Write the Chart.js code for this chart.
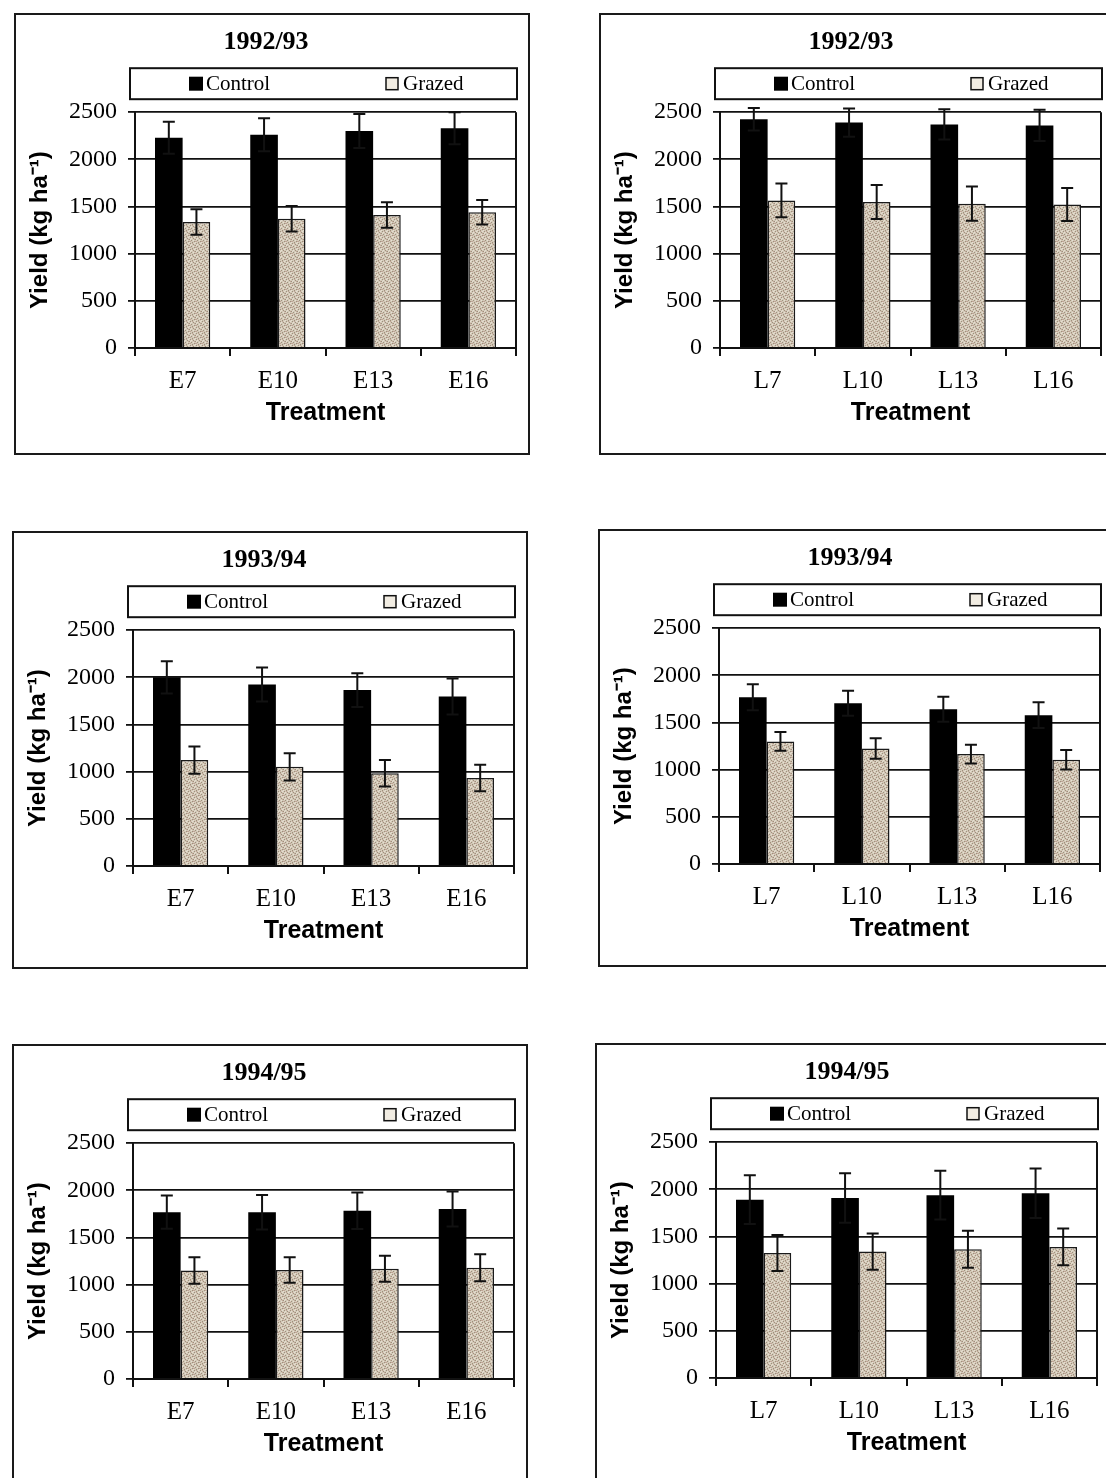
<!DOCTYPE html>
<html><head><meta charset="utf-8">
<script src="https://cdn.jsdelivr.net/npm/chart.js@4.4.1/dist/chart.umd.min.js"></script>
<style>
html,body{margin:0;padding:0;background:#fff;overflow:hidden;width:1106px;height:1478px;position:relative;}
.panel{position:absolute;border:2px solid #1a1a1a;background:#fff;}
.panel canvas{display:block;}
</style></head><body>
<div class="panel" style="left:14px;top:13px"><canvas id="c1" width="512" height="438"></canvas></div>
<div class="panel" style="left:599px;top:13px"><canvas id="c2" width="512" height="438"></canvas></div>
<div class="panel" style="left:12px;top:531px"><canvas id="c3" width="512" height="434"></canvas></div>
<div class="panel" style="left:598px;top:529px"><canvas id="c4" width="512" height="434"></canvas></div>
<div class="panel" style="left:12px;top:1044px"><canvas id="c5" width="512" height="438"></canvas></div>
<div class="panel" style="left:595px;top:1043px"><canvas id="c6" width="512" height="438"></canvas></div>
<script>
// ---------- data ----------
const seasons = ['1992/93', '1993/94', '1994/95'];
const earlyTreatments = ['E7', 'E10', 'E13', 'E16'];
const lateTreatments = ['L7', 'L10', 'L13', 'L16'];
const seriesNames = ['Control', 'Grazed'];
const yAxisTitle = 'Yield (kg ha\u207B\u00B9)';
const xAxisTitle = 'Treatment';
const yMin = 0, yMax = 2500, yStep = 500;

const control_9293_E = [2230, 2260, 2300, 2330];
const controlErr_9293_E = [170, 175, 180, 170];
const grazed_9293_E = [1335, 1370, 1410, 1440];
const grazedErr_9293_E = [135, 135, 135, 130];

const control_9293_L = [2425, 2390, 2370, 2360];
const controlErr_9293_L = [120, 150, 160, 165];
const grazed_9293_L = [1565, 1547, 1530, 1522];
const grazedErr_9293_L = [178, 180, 182, 175];

const control_9394_E = [2000, 1925, 1865, 1797];
const controlErr_9394_E = [172, 180, 178, 190];
const grazed_9394_E = [1123, 1051, 983, 933];
const grazedErr_9394_E = [145, 145, 140, 140];

const control_9394_L = [1768, 1704, 1640, 1578];
const controlErr_9394_L = [137, 132, 133, 136];
const grazed_9394_L = [1300, 1225, 1165, 1105];
const grazedErr_9394_L = [100, 108, 100, 104];

const control_9495_E = [1769, 1769, 1784, 1802];
const controlErr_9495_E = [176, 183, 193, 186];
const grazed_9495_E = [1150, 1155, 1170, 1180];
const grazedErr_9495_E = [140, 135, 138, 143];

const control_9495_L = [1891, 1909, 1938, 1959];
const controlErr_9495_L = [258, 262, 258, 262];
const grazed_9495_L = [1325, 1340, 1365, 1390];
const grazedErr_9495_L = [190, 192, 197, 194];

const panels = [
  {id: 'c1', season: seasons[0], labels: earlyTreatments, control: control_9293_E, controlErr: controlErr_9293_E, grazed: grazed_9293_E, grazedErr: grazedErr_9293_E},
  {id: 'c2', season: seasons[0], labels: lateTreatments, control: control_9293_L, controlErr: controlErr_9293_L, grazed: grazed_9293_L, grazedErr: grazedErr_9293_L},
  {id: 'c3', season: seasons[1], labels: earlyTreatments, control: control_9394_E, controlErr: controlErr_9394_E, grazed: grazed_9394_E, grazedErr: grazedErr_9394_E},
  {id: 'c4', season: seasons[1], labels: lateTreatments, control: control_9394_L, controlErr: controlErr_9394_L, grazed: grazed_9394_L, grazedErr: grazedErr_9394_L},
  {id: 'c5', season: seasons[2], labels: earlyTreatments, control: control_9495_E, controlErr: controlErr_9495_E, grazed: grazed_9495_E, grazedErr: grazedErr_9495_E},
  {id: 'c6', season: seasons[2], labels: lateTreatments, control: control_9495_L, controlErr: controlErr_9495_L, grazed: grazed_9495_L, grazedErr: grazedErr_9495_L}
];

// ---------- styling ----------
const SERIF = "'Liberation Serif', 'Times New Roman', serif";
const SANS = "'Liberation Sans', Arial, sans-serif";
const INK = '#111';
Chart.defaults.color = '#000';
Chart.defaults.animation = false;

function makeStipple(ctx) {
  const c = document.createElement('canvas');
  c.width = 6; c.height = 6;
  const g = c.getContext('2d');
  g.fillStyle = '#d3c9b8';
  g.fillRect(0, 0, 6, 6);
  g.fillStyle = '#9e907c';
  [[0,0],[3,1],[1,3],[4,4],[2,5],[5,2]].forEach(p => g.fillRect(p[0], p[1], 1, 1));
  g.fillStyle = '#c0a698';
  [[2,0],[5,4],[0,4],[4,2]].forEach(p => g.fillRect(p[0], p[1], 1, 1));
  g.fillStyle = '#e6dfd2';
  [[1,1],[4,0],[3,3],[0,2],[5,5]].forEach(p => g.fillRect(p[0], p[1], 1, 1));
  return ctx.createPattern(c, 'repeat');
}

const errorBars = {
  id: 'errorBars',
  afterDatasetsDraw(chart) {
    const ctx = chart.ctx;
    const ys = chart.scales.y;
    ctx.save();
    ctx.strokeStyle = INK;
    ctx.lineWidth = 2;
    chart.data.datasets.forEach((ds, i) => {
      const meta = chart.getDatasetMeta(i);
      meta.data.forEach((bar, j) => {
        const v = ds.data[j], e = ds.errors[j];
        const x = bar.x;
        const yTop = ys.getPixelForValue(v + e);
        const yBot = ys.getPixelForValue(v - e);
        const cap = 6;
        ctx.beginPath();
        ctx.moveTo(x, yBot); ctx.lineTo(x, yTop);
        ctx.moveTo(x - cap, yTop); ctx.lineTo(x + cap, yTop);
        ctx.moveTo(x - cap, yBot); ctx.lineTo(x + cap, yBot);
        ctx.stroke();
      });
    });
    ctx.restore();
  }
};

const frameAndLegend = {
  id: 'frameAndLegend',
  afterDraw(chart) {
    const ctx = chart.ctx;
    const a = chart.chartArea;
    ctx.save();
    ctx.strokeStyle = INK;
    ctx.lineWidth = 2;
    ctx.beginPath();
    ctx.moveTo(a.right, a.top); ctx.lineTo(a.right, a.bottom);
    ctx.stroke();
    const lx = a.left - 5, ly = a.top - 44, lw = (a.right + 1) - lx, lh = 31;
    ctx.fillStyle = '#fff';
    ctx.fillRect(lx, ly, lw, lh);
    ctx.lineWidth = 2;
    ctx.strokeRect(lx, ly, lw, lh);
    const cy = ly + lh / 2;
    const offsets = [54, 251];
    ctx.font = '21px ' + SERIF;
    ctx.textBaseline = 'middle';
    ctx.textAlign = 'left';
    chart.data.datasets.forEach((ds, i) => {
      const sx = a.left + offsets[i];
      if (i === 0) {
        ctx.fillStyle = '#000';
        ctx.fillRect(sx, cy - 7, 14, 14);
      } else {
        ctx.fillStyle = '#f1ece2';
        ctx.fillRect(sx, cy - 6, 12, 12);
        ctx.lineWidth = 1.5;
        ctx.strokeRect(sx, cy - 6, 12, 12);
      }
      ctx.fillStyle = '#000';
      ctx.fillText(ds.label, sx + 17, cy + 1);
    });
    ctx.restore();
  }
};

panels.forEach(p => {
  const canvas = document.getElementById(p.id);
  const ctx = canvas.getContext('2d');
  const H = canvas.height;
  const plotBottom = 333;
  new Chart(ctx, {
    type: 'bar',
    data: {
      labels: p.labels,
      datasets: [
        {label: seriesNames[0], data: p.control, errors: p.controlErr, backgroundColor: '#000', borderWidth: 0},
        {label: seriesNames[1], data: p.grazed, errors: p.grazedErr, backgroundColor: makeStipple(ctx), borderColor: '#1a1a1a', borderWidth: 1.5}
      ]
    },
    options: {
      responsive: false,
      maintainAspectRatio: false,
      animation: false,
      layout: {padding: {left: 0, right: 12, top: 0, bottom: 0}},
      datasets: {bar: {categoryPercentage: 0.58, barPercentage: 1.0}},
      plugins: {
        legend: {display: false},
        tooltip: {enabled: false},
        title: {
          display: true, text: p.season, color: '#000',
          font: {family: SERIF, size: 26, weight: 'bold'},
          padding: {top: 12, bottom: 54}
        }
      },
      scales: {
        x: {
          afterFit(scale) { scale.height = H - plotBottom; },
          grid: {display: true, drawOnChartArea: false, drawTicks: true, tickLength: 8, offset: true, color: INK, lineWidth: 2},
          border: {display: true, color: INK, width: 2},
          ticks: {color: '#000', font: {family: SERIF, size: 25}, padding: 10, maxRotation: 0},
          title: {display: true, text: xAxisTitle, color: '#000', font: {family: SANS, size: 25, weight: 'bold'}, padding: {top: 0, bottom: H - 398 - 15}}
        },
        y: {
          min: yMin, max: yMax,
          afterFit(scale) { scale.width = 119; },
          grid: {color: INK, lineWidth: 1.8, tickLength: 7, drawTicks: true},
          border: {display: true, color: INK, width: 2},
          ticks: {stepSize: yStep, color: '#000', font: {family: SERIF, size: 24}, padding: 11, callback: v => String(v)},
          title: {display: true, text: yAxisTitle, color: '#000', font: {family: SANS, size: 24, weight: 'bold'}, padding: {top: 10, bottom: 0}}
        }
      }
    },
    plugins: [errorBars, frameAndLegend]
  });
});
</script>
</body></html>
